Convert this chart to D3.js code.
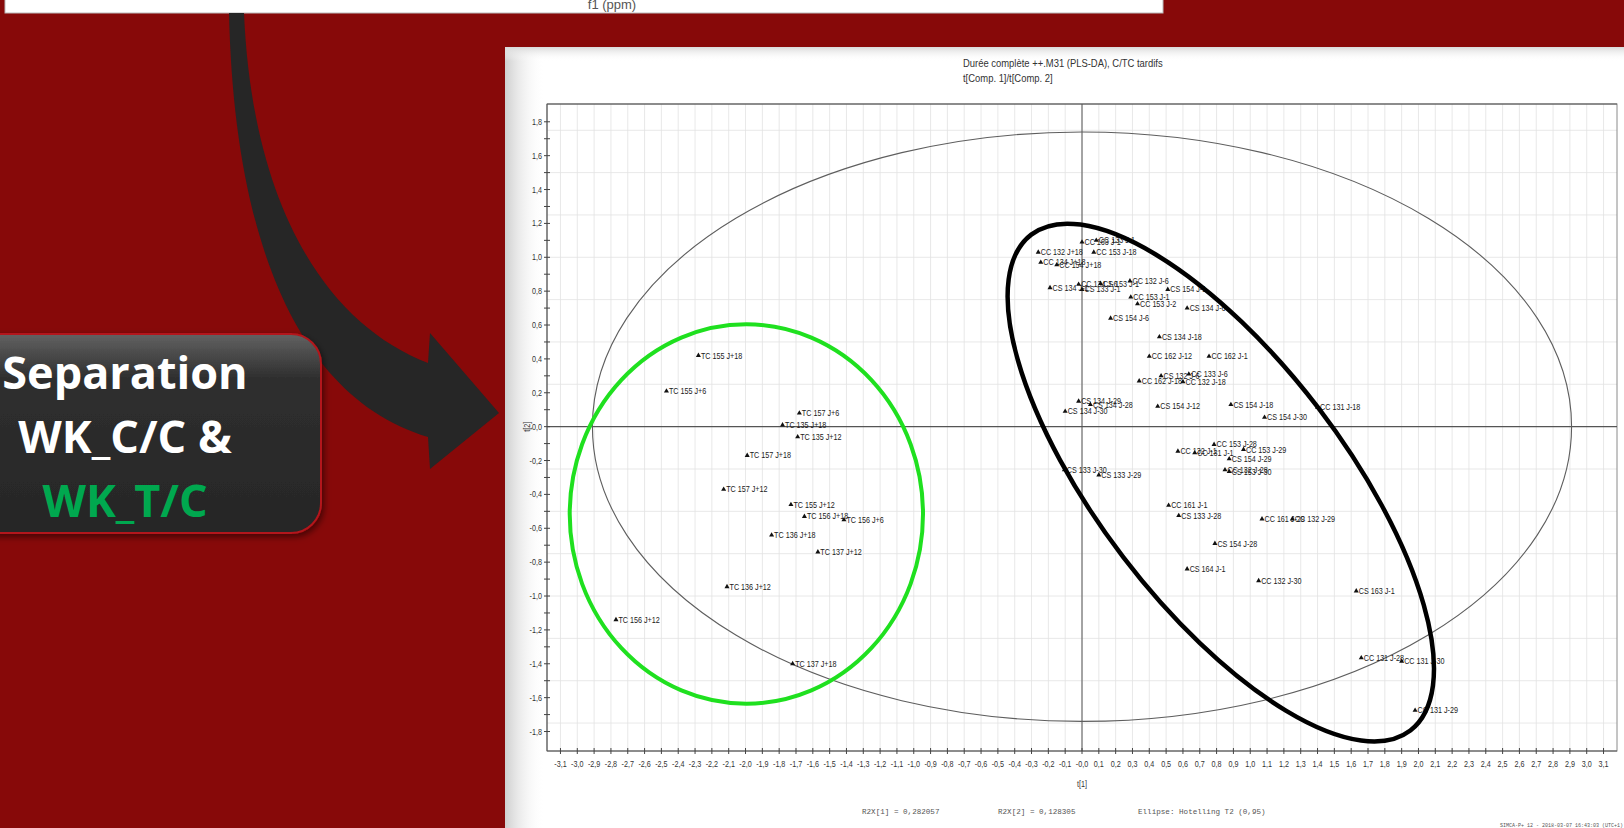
<!DOCTYPE html>
<meta charset="utf-8">
<head>
<style>
    body { margin: 0; background: #870909; overflow: hidden; }
    svg { display: block; }
    .grid line { stroke: #e2e2e2; stroke-width: 0.8; }
    .narrow { font-family: "Liberation Sans", Arial, sans-serif; }
    .tick-lbl { font-size: 9px; fill: #333; }
    .pt-lbl { font-size: 9px; fill: #1a1a1a; }
    .title { font-size: 11.8px; fill: #333; }
    .stat { font-family: "Liberation Mono", "DejaVu Sans Mono", monospace; font-size: 7.6px; fill: #555; }
    .box-txt { font-family: "Open Sans", sans-serif; font-weight: 700; font-size: 45px; text-anchor: middle; }
</style>
<script src="https://d3js.org/d3.v7.min.js"></script>
</head>
<body>
<script>

    var width = 1624, height = 828;

    // scores [label, t[1], t[2]]
    var tcScores = [
        ["TC 155 J+18", -2.28, 0.42],
        ["TC 155 J+6", -2.47, 0.21],
        ["TC 157 J+6", -1.68, 0.08],
        ["TC 135 J+18", -1.78, 0.01],
        ["TC 135 J+12", -1.69, -0.06],
        ["TC 157 J+18", -1.99, -0.17],
        ["TC 157 J+12", -2.13, -0.37],
        ["TC 155 J+12", -1.73, -0.46],
        ["TC 156 J+18", -1.65, -0.53],
        ["TC 156 J+6", -1.415, -0.55],
        ["TC 136 J+18", -1.845, -0.64],
        ["TC 137 J+12", -1.57, -0.74],
        ["TC 136 J+12", -2.11, -0.945],
        ["TC 156 J+12", -2.77, -1.14],
        ["TC 137 J+18", -1.72, -1.40]
    ];

    var ccScores = [
        ["CC 163 J-1", 0.0, 1.09],
        ["CC 133 J-1", 0.085, 1.10],
        ["CC 132 J+18", -0.26, 1.03],
        ["CC 153 J-18", 0.07, 1.03],
        ["CC 134 J+18", -0.245, 0.97],
        ["CC 154 J+18", -0.15, 0.955],
        ["CS 134 J-1", -0.19, 0.82],
        ["CC 134 J-6", -0.02, 0.84],
        ["CS 133 J-1", 0.0, 0.81],
        ["CS 153 J-1", 0.11, 0.845],
        ["CC 132 J-6", 0.285, 0.86],
        ["CS 154 J-1", 0.51, 0.81],
        ["CC 153 J-1", 0.29, 0.765],
        ["CC 153 J-2", 0.33, 0.725],
        ["CS 134 J-6", 0.625, 0.70],
        ["CS 154 J-6", 0.17, 0.64],
        ["CS 134 J-18", 0.46, 0.53],
        ["CC 162 J-12", 0.40, 0.415],
        ["CC 162 J-1", 0.755, 0.415],
        ["CC 162 J-18", 0.34, 0.27],
        ["CS 132 J-6", 0.47, 0.30],
        ["CC 133 J-6", 0.635, 0.31],
        ["CC 132 J-18", 0.60, 0.265],
        ["CS 134 J-29", -0.02, 0.15],
        ["CS 134 J-28", 0.05, 0.13],
        ["CS 134 J-30", -0.10, 0.09],
        ["CS 154 J-12", 0.45, 0.12],
        ["CS 154 J-18", 0.885, 0.13],
        ["CS 154 J-30", 1.085, 0.055],
        ["CC 131 J-18", 1.40, 0.115],
        ["CC 153 J-28", 0.785, -0.105],
        ["CC 153 J-29", 0.96, -0.135],
        ["CC 132 J-1", 0.57, -0.145],
        ["CC 131 J-1", 0.67, -0.155],
        ["CS 154 J-29", 0.875, -0.19],
        ["CC 132 J-28", 0.85, -0.255],
        ["CS 153 J-30", 0.875, -0.265],
        ["CS 133 J-30", -0.105, -0.255],
        ["CS 133 J-29", 0.10, -0.285],
        ["CC 161 J-1", 0.515, -0.465],
        ["CS 133 J-28", 0.575, -0.525],
        ["CC 161 J-29", 1.07, -0.545],
        ["CC 132 J-29", 1.25, -0.545],
        ["CS 154 J-28", 0.79, -0.69],
        ["CS 164 J-1", 0.625, -0.84],
        ["CC 132 J-30", 1.05, -0.91],
        ["CS 163 J-1", 1.63, -0.97],
        ["CC 131 J-28", 1.66, -1.365],
        ["CC 131 J-30", 1.90, -1.385],
        ["CC 131 J-29", 1.98, -1.675]
    ];

    var yTicks = [1.8, 1.6, 1.4, 1.2, 1.0, 0.8, 0.6, 0.4, 0.2, 0.0, -0.2, -0.4, -0.6, -0.8, -1.0, -1.2, -1.4, -1.6, -1.8];
    var yMinor = [1.7, 1.5, 1.3, 1.1, 0.9, 0.7, 0.5, 0.3, 0.1, -0.1, -0.3, -0.5, -0.7, -0.9, -1.1, -1.3, -1.5, -1.7];
    var yGrid = [1.75, 1.5, 1.25, 1.0, 0.75, 0.5, 0.25, -0.25, -0.5, -0.75, -1.0, -1.25, -1.5, -1.75];
    var xTicks = d3.range(-31, 32).map(function (i) { return i / 10; });

    // ellipses, in score units
    var hotelling = {a: 2.91, b: 1.74};
    var tcRing = {cx: -1.995, cy: -0.516, rx: 1.05, ry: 1.12};
    var ccRing = {cx: 0.825, cy: -0.33, a: 1.855, b: 0.725, angle: 52.6};

    var NARROW = 0.8;   // squeeze Arial-like text toward Arial Narrow

    var svg = d3.select("body").append("svg")
        .attr("width", width)
        .attr("height", height);

    var defs = svg.append("defs");

    var g1 = defs.append("linearGradient").attr("id", "boxFill").attr("x1", 0).attr("y1", 0).attr("x2", 0).attr("y2", 1);
    g1.append("stop").attr("offset", "0%").attr("stop-color", "#626262");
    g1.append("stop").attr("offset", "22%").attr("stop-color", "#2f2f2f");
    g1.append("stop").attr("offset", "100%").attr("stop-color", "#262626");

    var g2 = defs.append("linearGradient").attr("id", "panelEdge").attr("x1", 0).attr("y1", 0).attr("x2", 1).attr("y2", 0);
    g2.append("stop").attr("offset", "0%").attr("stop-color", "#cfcfcf");
    g2.append("stop").attr("offset", "100%").attr("stop-color", "#ffffff").attr("stop-opacity", 0);

    var g3 = defs.append("linearGradient").attr("id", "panelTop").attr("x1", 0).attr("y1", 0).attr("x2", 0).attr("y2", 1);
    g3.append("stop").attr("offset", "0%").attr("stop-color", "#d9d9d9");
    g3.append("stop").attr("offset", "100%").attr("stop-color", "#ffffff").attr("stop-opacity", 0);

    var shadow = defs.append("filter").attr("id", "shadow").attr("x", "-20%").attr("y", "-20%").attr("width", "140%").attr("height", "140%");
    shadow.append("feDropShadow").attr("dx", 2).attr("dy", 3).attr("stdDeviation", 3).attr("flood-color", "#000").attr("flood-opacity", 0.5);

    // helper: narrow text at a point
    function narrowText(sel, px, py, cls, anchor, str) {
        return sel.append("text")
            .attr("class", "narrow " + cls)
            .attr("transform", "translate(" + px + "," + py + ") scale(" + NARROW + ",1)")
            .attr("text-anchor", anchor || "start")
            .text(str);
    }

    // top strip of the previous figure
    svg.append("rect").attr("x", 5).attr("y", -5).attr("width", 1158).attr("height", 18)
        .attr("fill", "#fff").attr("stroke", "#bbb");
    svg.append("text").attr("x", 612).attr("y", 9).attr("text-anchor", "middle")
        .style("font-family", "Liberation Sans, sans-serif").style("font-size", "13px").style("fill", "#555")
        .text("f1 (ppm)");

    // big curved arrow
    svg.append("path")
        .attr("d", "M229,13 C234,235 295,397 428,437 L430,469 L499,413 L430,333 L428,363 C322,322 252,200 244,13 Z")
        .attr("fill", "#262626");

    // label box
    svg.append("rect").attr("x", -40).attr("y", 334).attr("width", 361).attr("height", 199).attr("rx", 30)
        .attr("fill", "url(#boxFill)").attr("stroke", "#b3141a").attr("stroke-width", 2)
        .attr("filter", "url(#shadow)");
    svg.append("text").attr("class", "box-txt").attr("x", 125).attr("y", 389).attr("fill", "#fff").text("Separation");
    svg.append("text").attr("class", "box-txt").attr("x", 125).attr("y", 453).attr("fill", "#fff").text("WK_C/C &");
    svg.append("text").attr("class", "box-txt").attr("x", 125).attr("y", 517).attr("fill", "#00a84f").text("WK_T/C");

    // white plot panel
    svg.append("rect").attr("x", 505).attr("y", 47).attr("width", 1130).attr("height", 800).attr("fill", "#fff");
    svg.append("rect").attr("x", 505).attr("y", 47).attr("width", 40).attr("height", 800).attr("fill", "url(#panelEdge)");
    svg.append("rect").attr("x", 505).attr("y", 47).attr("width", 1130).attr("height", 14).attr("fill", "url(#panelTop)");

    var x = d3.scaleLinear().domain([-3.18, 3.18]).range([547, 1617]);
    var y = d3.scaleLinear().domain([-1.915, 1.905]).range([751, 104]);

    var fmtX = function (v) {
        if (Math.abs(v) < 1e-9) return "-0,0";
        return d3.format(".1f")(v).replace("\u2212", "-").replace(".", ",");
    };
    var fmtY = function (v) {
        if (Math.abs(v) < 1e-9) return "0,0";
        return d3.format(".1f")(v).replace("\u2212", "-").replace(".", ",");
    };

    var plot = svg.append("g");

    // grid
    var grid = plot.append("g").attr("class", "grid");
    grid.selectAll("line.v").data(xTicks).enter().append("line").attr("class", "v")
        .attr("x1", function (d) { return x(d); }).attr("x2", function (d) { return x(d); })
        .attr("y1", y.range()[1]).attr("y2", y.range()[0]);
    grid.selectAll("line.h").data(yGrid).enter().append("line").attr("class", "h")
        .attr("x1", x.range()[0]).attr("x2", x.range()[1])
        .attr("y1", function (d) { return y(d); }).attr("y2", function (d) { return y(d); });

    // frame
    plot.append("rect").attr("x", x.range()[0]).attr("y", y.range()[1])
        .attr("width", x.range()[1] - x.range()[0]).attr("height", y.range()[0] - y.range()[1])
        .attr("fill", "none").attr("stroke", "#8a8a8a").attr("stroke-width", 1);
    plot.append("line").attr("x1", x.range()[0]).attr("x2", x.range()[1]).attr("y1", y.range()[1]).attr("y2", y.range()[1])
        .attr("stroke", "#555");
    plot.append("line").attr("x1", x.range()[0]).attr("x2", x.range()[0]).attr("y1", y.range()[1]).attr("y2", y.range()[0])
        .attr("stroke", "#555");
    plot.append("line").attr("x1", x.range()[0]).attr("x2", x.range()[1]).attr("y1", y.range()[0]).attr("y2", y.range()[0])
        .attr("stroke", "#555");

    // zero lines
    plot.append("line").attr("x1", x(0)).attr("x2", x(0)).attr("y1", y.range()[1]).attr("y2", y.range()[0])
        .attr("stroke", "#555").attr("stroke-width", 1);
    plot.append("line").attr("x1", x.range()[0]).attr("x2", x.range()[1]).attr("y1", y(0)).attr("y2", y(0))
        .attr("stroke", "#555").attr("stroke-width", 1.3);

    // y ticks
    var ax = x.range()[0];
    plot.selectAll("line.ytk").data(yTicks.concat(yMinor)).enter().append("line").attr("class", "ytk")
        .attr("x1", ax - 3).attr("x2", ax + 3)
        .attr("y1", function (d) { return y(d); }).attr("y2", function (d) { return y(d); })
        .attr("stroke", "#444");
    yTicks.forEach(function (v) {
        narrowText(plot, ax - 5, y(v) + 3, "tick-lbl", "end", fmtY(v));
    });

    // x ticks
    var ay = y.range()[0];
    plot.selectAll("line.xtk").data(xTicks).enter().append("line").attr("class", "xtk")
        .attr("x1", function (d) { return x(d); }).attr("x2", function (d) { return x(d); })
        .attr("y1", ay - 3).attr("y2", ay + 3)
        .attr("stroke", "#444");
    xTicks.forEach(function (v) {
        narrowText(plot, x(v), ay + 16, "tick-lbl", "middle", fmtX(v));
    });

    narrowText(plot, x(0), 787, "tick-lbl", "middle", "t[1]");
    plot.append("text").attr("class", "narrow tick-lbl")
        .attr("transform", "translate(530," + y(0) + ") rotate(-90) scale(" + NARROW + ",1)")
        .attr("text-anchor", "middle").text("t[2]");

    // titles
    narrowText(plot, 963, 67, "title", "start", "Durée complète ++.M31 (PLS-DA), C/TC tardifs");
    narrowText(plot, 963, 82, "title", "start", "t[Comp. 1]/t[Comp. 2]");

    // hotelling ellipse
    plot.append("ellipse").attr("cx", x(0)).attr("cy", y(0))
        .attr("rx", x(hotelling.a) - x(0)).attr("ry", y(0) - y(hotelling.b))
        .attr("fill", "none").attr("stroke", "#5e5e5e").attr("stroke-width", 1.1);

    // points
    var tri = d3.symbol().type(d3.symbolTriangle).size(11);
    var allScores = tcScores.concat(ccScores);
    var pts = plot.append("g").selectAll("g").data(allScores).enter().append("g")
        .attr("transform", function (d) { return "translate(" + x(d[1]) + "," + y(d[2]) + ")"; });
    pts.append("path").attr("d", tri).attr("fill", "#111");
    pts.append("text").attr("class", "narrow pt-lbl")
        .attr("transform", "translate(2.5,3) scale(" + NARROW + ",1)")
        .text(function (d) { return d[0]; });

    // group rings
    plot.append("ellipse").attr("cx", x(tcRing.cx)).attr("cy", y(tcRing.cy))
        .attr("rx", x(tcRing.rx) - x(0)).attr("ry", y(0) - y(tcRing.ry))
        .attr("fill", "none").attr("stroke", "#1fe01f").attr("stroke-width", 4);
    plot.append("ellipse").attr("cx", x(ccRing.cx)).attr("cy", y(ccRing.cy))
        .attr("rx", x(ccRing.a) - x(0)).attr("ry", y(0) - y(ccRing.b))
        .attr("transform", "rotate(" + ccRing.angle + "," + x(ccRing.cx) + "," + y(ccRing.cy) + ")")
        .attr("fill", "none").attr("stroke", "#000").attr("stroke-width", 4.5);

    // footer
    plot.append("text").attr("class", "stat").attr("x", 862).attr("y", 814).text("R2X[1] = 0,282057");
    plot.append("text").attr("class", "stat").attr("x", 998).attr("y", 814).text("R2X[2] = 0,128305");
    plot.append("text").attr("class", "stat").attr("x", 1138).attr("y", 814).text("Ellipse: Hotelling T2 (0,95)");
    plot.append("text").attr("class", "stat").attr("x", 1500).attr("y", 827).style("font-size", "5px")
        .text("SIMCA-P+ 12 - 2018-03-07 16:43:03 (UTC+1)");

</script>
</body>
</html>
